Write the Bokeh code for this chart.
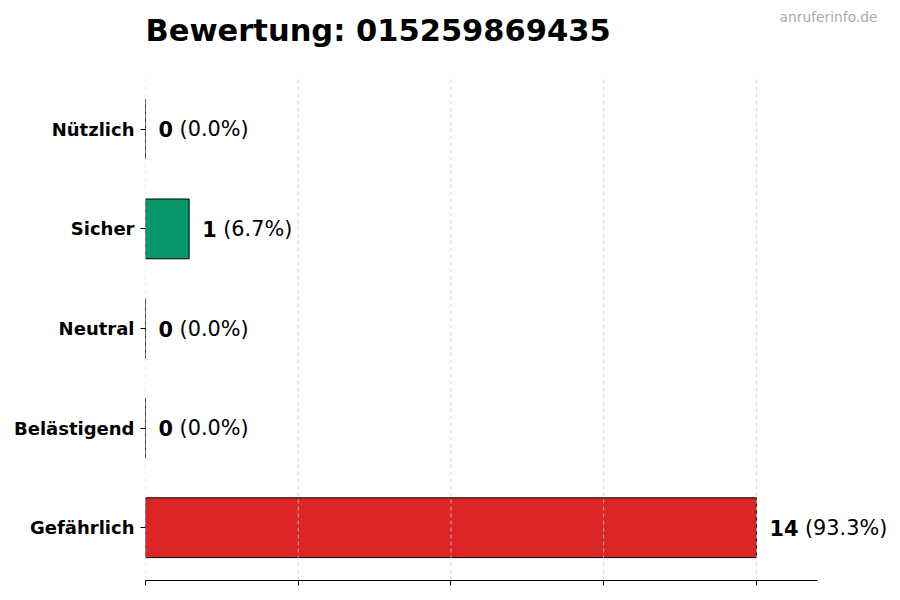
from bokeh.plotting import figure
from bokeh.models import Range1d, FixedTicker, ColumnDataSource, Label
from bokeh.embed import file_html
from bokeh.resources import INLINE
from bokeh.core.properties import value

categories = ["Nützlich", "Sicher", "Neutral", "Belästigend", "Gefährlich"]
counts = [0, 1, 0, 0, 14]
colors = ["#2563eb", "#059669", "#9ca3af", "#f59e0b", "#dc2626"]
x_ticks = [0, 3.5, 7, 10.5, 14]
title_text = "Bewertung: 015259869435"
watermark = "anruferinfo.de"

total = sum(counts)
n = len(categories)
ypos = [n - 1 - i for i in range(n)]
num_txt = [str(c) for c in counts]
pct_txt = ["(%.1f%%)" % (100.0 * c / total) for c in counts]
label_x = [c + 0.3 for c in counts]
pct_off = [len(s) * 14.5 + 6.5 for s in num_txt]

# layout (pixels)
AX_W, AX_H = 672, 504          # visible axes box
LEFT, TOP = 145, 76
FRAME_W, FRAME_H = 745, 580    # frame extends right/top to host outside texts

x_end = max(counts) * 1.1
y_lo, y_hi = -0.53, n - 1 + 0.53
kx = AX_W / x_end
ky = AX_H / (y_hi - y_lo)
frame_x_end = FRAME_W / kx
frame_y_top = y_hi + TOP / ky

def px_x(px):
    return (px - LEFT) / kx

def px_y(py):
    return y_hi + (TOP - py) / ky

src = ColumnDataSource(dict(y=ypos, right=counts, color=colors, lx=label_x,
                            num=num_txt, pct=pct_txt, off=pct_off))

p = figure(frame_width=FRAME_W, frame_height=FRAME_H, output_backend="svg",
           toolbar_location=None, title_location=None,
           x_range=Range1d(0, frame_x_end), y_range=Range1d(y_lo, frame_y_top),
           min_border_left=LEFT, min_border_right=0, min_border_top=0, min_border_bottom=8)
p.outline_line_color = None
p.background_fill_color = "white"

p.hbar(y="y", left=0, right="right", height=0.6, fill_color="color",
       line_color="black", line_width=1, source=src)

# vertical grid lines at the x ticks, drawn over the bars
p.segment(x0=x_ticks, y0=[y_lo] * len(x_ticks), x1=x_ticks, y1=[y_hi] * len(x_ticks),
          line_color="#cccccc", line_dash="4 3", line_width=0.8)

p.text(x="lx", y="y", text="num", source=src, text_font=value("DejaVu Sans"),
       text_font_style="bold", text_font_size="20.8px", text_baseline="middle",
       text_align="left", text_color="black")
p.text(x="lx", y="y", text="pct", x_offset="off", source=src, text_font=value("DejaVu Sans"),
       text_font_size="20.8px", text_baseline="middle", text_align="left", text_color="black")

p.add_layout(Label(x=px_x(145), y=px_y(30), text=title_text, text_font="DejaVu Sans",
                   text_font_style="bold", text_font_size="30.5px", text_color="black",
                   text_align="left", text_baseline="alphabetic"))
p.add_layout(Label(x=px_x(877), y=px_y(16), text=watermark, text_font="DejaVu Sans",
                   text_font_size="13.8px", text_color="#aaaaaa",
                   text_align="right", text_baseline="alphabetic"))

p.xaxis.ticker = FixedTicker(ticks=x_ticks)
p.xaxis.bounds = (0, x_end)
p.xaxis.major_label_overrides = {t: "" for t in x_ticks}
p.xaxis.major_label_standoff = 0
p.xaxis.axis_line_color = "black"
p.xaxis.major_tick_line_color = "black"
p.xaxis.major_tick_out = 5
p.xaxis.major_tick_in = 0
p.xaxis.minor_tick_line_color = None

p.yaxis.ticker = FixedTicker(ticks=ypos)
p.yaxis.major_label_overrides = {y: c for y, c in zip(ypos, categories)}
p.yaxis.major_label_text_font = "DejaVu Sans"
p.yaxis.major_label_text_font_style = "bold"
p.yaxis.major_label_text_font_size = "18px"
p.yaxis.major_label_text_color = "black"
p.yaxis.axis_line_color = None
p.yaxis.major_tick_line_color = "black"
p.yaxis.major_tick_out = 5
p.yaxis.major_tick_in = 0
p.yaxis.minor_tick_line_color = None
p.yaxis.major_label_standoff = 6

p.xgrid.grid_line_color = None
p.ygrid.grid_line_color = None

open("out.html", "w").write(file_html(p, INLINE))
